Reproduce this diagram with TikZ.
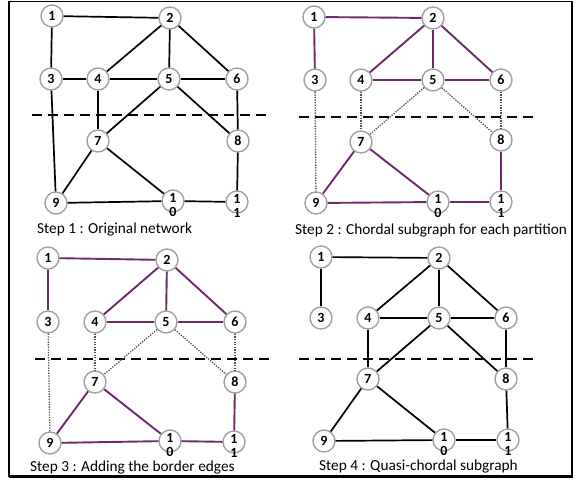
\documentclass[tikz,border=0pt]{standalone}
\usepackage{fontspec}
\setmainfont{Carlito}
\usetikzlibrary{calc}

\definecolor{edgepurple}{RGB}{108,42,108}
\definecolor{ringgray}{RGB}{160,160,160}
\definecolor{dotgray}{RGB}{80,80,80}

\tikzset{
  vtx/.style={circle, draw=ringgray, line width=1.4pt, fill=white,
              minimum size=22pt, inner sep=0pt,
              font=\fontsize{14}{15}\selectfont\bfseries},
  twolines/.style={align=center, inner sep=0pt,
              font=\fontsize{14}{14}\selectfont\bfseries},
  plain/.style={line width=1.7pt, black},
  chord/.style={line width=1.9pt, edgepurple},
  border/.style={line width=1.3pt, dotgray, dash pattern=on 1.3pt off 1.3pt},
  cut/.style={line width=2.8pt, black, dash pattern=on 10pt off 6pt},
  caption/.style={font=\fontsize{15.3}{18}\selectfont, anchor=base west, inner sep=0pt},
}

% one vertex whose number is split over two lines
\newcommand\splitvtx[4]{%
  \node[vtx] (#1) at (#2,#3) {};
  \node[twolines] (#1t) at ($(#1)+(0,4)$) {#4};
}

\begin{document}
\begin{tikzpicture}[x=1pt, y=-1pt]
\useasboundingbox (0,0) rectangle (576,481);

% outer frame
\draw[line width=1.1pt] (9,1.5) rectangle (572,476.5);
\draw[line width=2.2pt] (9,476.5) -- (572,476.5) -- (572,1.5);

% ---------- Step 1 ----------
\draw[cut] (32,115) coordinate (c1a) -- (270,115) coordinate (c1b);
\foreach \n/\x/\y in {1/52/16, 2/170/18, 3/51/79, 4/98/79, 5/169/79,
                      6/237/79, 7/98/141, 8/238/141, 9/56/203}
  \node[vtx] (a\n) at (\x,\y) {\n};
\splitvtx{a10}{173}{201}{1\\0}
\splitvtx{a11}{237}{202}{1\\1}
\foreach \u/\v in {1/2, 1/3, 2/4, 2/5, 2/6, 3/4, 4/5, 5/6, 3/9, 4/7,
                   5/7, 5/8, 6/8, 7/9, 7/10, 9/10, 10/11, 8/11}
  \draw[plain] (a\u) -- (a\v);
\node[caption] (cap1) at (37,234) {Step 1 : Original network};

% ---------- Step 2 ----------
\draw[cut] (299,117) coordinate (c2a) -- (536,117) coordinate (c2b);
\foreach \n/\x/\y in {1/314/17, 2/433/18, 3/315/80, 4/361/80, 5/433/80,
                      6/501/80, 7/361/142, 8/501/140, 9/316/203}
  \node[vtx] (b\n) at (\x,\y) {\n};
\splitvtx{b10}{438}{202}{1\\0}
\splitvtx{b11}{501}{202}{1\\1}
\foreach \u/\v in {1/2, 1/3, 2/4, 2/5, 2/6, 4/5, 5/6, 7/9, 7/10, 9/10,
                   10/11, 8/11}
  \draw[chord] (b\u) -- (b\v);
\foreach \u/\v in {3/9, 4/7, 5/7, 5/8, 6/8}
  \draw[border] (b\u) -- (b\v);
\node[caption] (cap2) at (295,235) {Step 2 : Chordal subgraph for each partition};

% ---------- Step 3 ----------
\draw[cut] (35,359) coordinate (c3a) -- (273,359) coordinate (c3b);
\foreach \n/\x/\y in {1/48/258, 2/167/260, 3/48/322, 4/95/322, 5/166/322,
                      6/235/322, 7/95/382, 8/235/382, 9/50/443}
  \node[vtx] (c\n) at (\x,\y) {\n};
\splitvtx{c10}{170}{441}{1\\0}
\splitvtx{c11}{234}{442}{1\\1}
\foreach \u/\v in {1/2, 1/3, 2/4, 2/5, 2/6, 4/5, 5/6, 7/9, 7/10, 9/10,
                   10/11, 8/11}
  \draw[chord] (c\u) -- (c\v);
\foreach \u/\v in {3/9, 4/7, 5/7, 5/8, 6/8}
  \draw[border] (c\u) -- (c\v);
\node[caption] (cap3) at (30,471) {Step 3 : Adding the border edges};

% ---------- Step 4 ----------
\draw[cut] (299,359) coordinate (c4a) -- (536,359) coordinate (c4b);
\foreach \n/\x/\y in {1/321/257, 2/439/258, 3/321/318, 4/368/318, 5/439/318,
                      6/506/318, 7/368/379, 8/506/379, 9/324/441}
  \node[vtx] (d\n) at (\x,\y) {\n};
\splitvtx{d10}{444}{440}{1\\0}
\splitvtx{d11}{508}{440}{1\\1}
\foreach \u/\v in {1/2, 1/3, 2/4, 2/5, 2/6, 4/5, 5/6, 4/7, 5/7, 5/8,
                   6/8, 7/9, 7/10, 9/10, 10/11, 8/11}
  \draw[plain] (d\u) -- (d\v);
\node[caption] (cap4) at (319,470) {Step 4 : Quasi-chordal subgraph};

\end{tikzpicture}
\end{document}
